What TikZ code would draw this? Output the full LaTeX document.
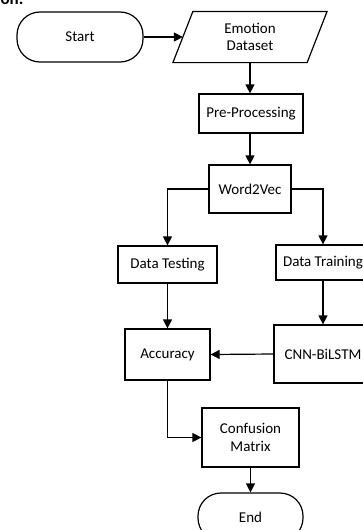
\documentclass[tikz,border=0pt]{standalone}
\usepackage{fontspec}
\setmainfont{Carlito}
\usetikzlibrary{arrows.meta,calc}
\begin{document}
\begin{tikzpicture}[x=1pt,y=-1pt,
  every node/.style={font=\fontsize{15}{17.5}\selectfont, align=center, line width=1.2pt},
  procbox/.style={draw, rectangle, inner sep=0pt},
  termbox/.style={draw, rectangle, rounded corners=23pt, inner sep=0pt},
  flow/.style={line width=1.2pt, -{Triangle[length=9pt,width=9pt]}},
  plainline/.style={line width=1.2pt}
]
\useasboundingbox (0,0) rectangle (363,530);

% caption fragment above the chart
\node[anchor=base west, font=\bfseries\fontsize{17}{19}\selectfont, inner sep=0pt] (cap) at (0,5) {on:};

% terminators
\node[termbox, minimum width=126pt, minimum height=50pt] (start) at (80,37) {Start};
\node[termbox, minimum width=105pt, minimum height=48pt] (end) at (250.5,517) {End};

% data input (parallelogram drawn around a text node)
\node[minimum width=133pt, minimum height=50pt, inner sep=0pt] (ds) at (250,37) {Emotion\\Dataset};
\draw[plainline] ($(ds.south west)+(-10,0)$) -- ($(ds.north west)+(10,0)$)
  -- ($(ds.north east)+(10,0)$) -- ($(ds.south east)+(-10,0)$) -- cycle;

% process steps
\node[procbox, minimum width=104pt, minimum height=39pt] (pp) at (251,113.5) {Pre-Processing};
\node[procbox, minimum width=82pt, minimum height=48pt] (w2v) at (250,189) {Word2Vec};
\node[procbox, minimum width=99pt, minimum height=37pt] (dtest) at (167.5,264.5) {Data Testing};
\node[procbox, minimum width=94pt, minimum height=35pt] (dtrain) at (323,262.5) {Data Training};
\node[procbox, minimum width=98pt, minimum height=58pt] (cnn) at (323,354) {CNN-BiLSTM};
\node[procbox, minimum width=85pt, minimum height=51pt] (acc) at (167.5,354.5) {Accuracy};
\node[procbox, minimum width=97pt, minimum height=59pt] (cm) at (250.5,437.5) {Confusion\\Matrix};

% connectors
\draw[flow] (start.east) -- (ds.west);
\draw[flow] (ds.south) -- (ds.south |- pp.north);
\draw[flow] (pp.south -| w2v.north) -- (w2v.north);
\draw[flow] (w2v.west) -| (dtest.north);
\draw[flow] (w2v.east) -| (dtrain.north);
\draw[flow] (dtest.south) -- (acc.north);
\draw[flow] (dtrain.south) -- (cnn.north);
\draw[flow] (cnn.west) -- (acc.east);
\draw[flow] (acc.south) |- (cm.west);
\draw[flow] (cm.south) -- (end.north);
\end{tikzpicture}
\end{document}
